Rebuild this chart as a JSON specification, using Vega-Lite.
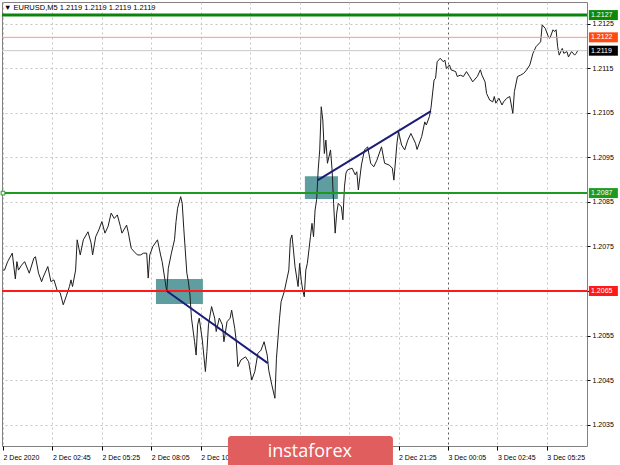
{
  "$schema": "https://vega.github.io/schema/vega-lite/v6.json",
  "width": 585,
  "height": 444,
  "autosize": {"type": "none"},
  "padding": {"left": 2, "top": 2, "right": 33, "bottom": 19},
  "background": "#ffffff",
  "config": {
    "view": {"stroke": "#808080", "strokeWidth": 1},
    "font": "Liberation Sans"
  },
  "datasets": {
    "price": [
      {"t":"2020-12-02T00:05","p":1.20697},{"t":"2020-12-02T00:10","p":1.20697},{"t":"2020-12-02T00:20","p":1.20716},{"t":"2020-12-02T00:35","p":1.20735},{"t":"2020-12-02T00:45","p":1.20677},{"t":"2020-12-02T00:50","p":1.20716},{"t":"2020-12-02T00:55","p":1.20697},{"t":"2020-12-02T01:05","p":1.20708},{"t":"2020-12-02T01:15","p":1.20716},{"t":"2020-12-02T01:30","p":1.2069},{"t":"2020-12-02T01:45","p":1.20724},{"t":"2020-12-02T01:50","p":1.20727},{"t":"2020-12-02T02:00","p":1.2069},{"t":"2020-12-02T02:10","p":1.20671},{"t":"2020-12-02T02:15","p":1.20681},{"t":"2020-12-02T02:30","p":1.20705},{"t":"2020-12-02T02:40","p":1.20671},{"t":"2020-12-02T02:50","p":1.20675},{"t":"2020-12-02T03:00","p":1.20652},{"t":"2020-12-02T03:10","p":1.20646},{"t":"2020-12-02T03:20","p":1.20619},{"t":"2020-12-02T03:30","p":1.20639},{"t":"2020-12-02T03:40","p":1.2066},{"t":"2020-12-02T03:45","p":1.20675},{"t":"2020-12-02T03:50","p":1.2066},{"t":"2020-12-02T04:00","p":1.20697},{"t":"2020-12-02T04:05","p":1.20765},{"t":"2020-12-02T04:15","p":1.20731},{"t":"2020-12-02T04:25","p":1.20765},{"t":"2020-12-02T04:40","p":1.20783},{"t":"2020-12-02T04:50","p":1.20758},{"t":"2020-12-02T04:55","p":1.20731},{"t":"2020-12-02T05:05","p":1.20772},{"t":"2020-12-02T05:15","p":1.20787},{"t":"2020-12-02T05:25","p":1.20806},{"t":"2020-12-02T05:35","p":1.2078},{"t":"2020-12-02T05:45","p":1.20795},{"t":"2020-12-02T05:55","p":1.20825},{"t":"2020-12-02T06:05","p":1.20813},{"t":"2020-12-02T06:15","p":1.20821},{"t":"2020-12-02T06:25","p":1.20795},{"t":"2020-12-02T06:30","p":1.2078},{"t":"2020-12-02T06:45","p":1.20798},{"t":"2020-12-02T06:50","p":1.20783},{"t":"2020-12-02T07:00","p":1.20746},{"t":"2020-12-02T07:10","p":1.20738},{"t":"2020-12-02T07:20","p":1.20731},{"t":"2020-12-02T07:30","p":1.20731},{"t":"2020-12-02T07:40","p":1.20735},{"t":"2020-12-02T07:50","p":1.20735},{"t":"2020-12-02T07:55","p":1.20679},{"t":"2020-12-02T08:00","p":1.20731},{"t":"2020-12-02T08:10","p":1.2075},{"t":"2020-12-02T08:25","p":1.20765},{"t":"2020-12-02T08:35","p":1.20731},{"t":"2020-12-02T08:40","p":1.20716},{"t":"2020-12-02T08:50","p":1.20671},{"t":"2020-12-02T08:55","p":1.20648},{"t":"2020-12-02T09:00","p":1.20701},{"t":"2020-12-02T09:10","p":1.20735},{"t":"2020-12-02T09:15","p":1.2075},{"t":"2020-12-02T09:20","p":1.20765},{"t":"2020-12-02T09:25","p":1.20806},{"t":"2020-12-02T09:30","p":1.20836},{"t":"2020-12-02T09:40","p":1.20862},{"t":"2020-12-02T09:45","p":1.20847},{"t":"2020-12-02T09:50","p":1.20791},{"t":"2020-12-02T10:00","p":1.2069},{"t":"2020-12-02T10:05","p":1.20671},{"t":"2020-12-02T10:10","p":1.20641},{"t":"2020-12-02T10:15","p":1.20589},{"t":"2020-12-02T10:25","p":1.20536},{"t":"2020-12-02T10:30","p":1.20506},{"t":"2020-12-02T10:35","p":1.20574},{"t":"2020-12-02T10:40","p":1.20589},{"t":"2020-12-02T10:50","p":1.2054},{"t":"2020-12-02T11:00","p":1.20469},{"t":"2020-12-02T11:05","p":1.20514},{"t":"2020-12-02T11:10","p":1.20574},{"t":"2020-12-02T11:20","p":1.20615},{"t":"2020-12-02T11:30","p":1.20589},{"t":"2020-12-02T11:35","p":1.20559},{"t":"2020-12-02T11:45","p":1.20589},{"t":"2020-12-02T11:55","p":1.20574},{"t":"2020-12-02T12:00","p":1.20536},{"t":"2020-12-02T12:10","p":1.20581},{"t":"2020-12-02T12:20","p":1.20589},{"t":"2020-12-02T12:25","p":1.20607},{"t":"2020-12-02T12:35","p":1.20566},{"t":"2020-12-02T12:40","p":1.20536},{"t":"2020-12-02T12:45","p":1.2048},{"t":"2020-12-02T12:55","p":1.20495},{"t":"2020-12-02T13:10","p":1.20502},{"t":"2020-12-02T13:20","p":1.20491},{"t":"2020-12-02T13:30","p":1.2045},{"t":"2020-12-02T13:40","p":1.20469},{"t":"2020-12-02T13:50","p":1.2051},{"t":"2020-12-02T14:00","p":1.20517},{"t":"2020-12-02T14:10","p":1.20536},{"t":"2020-12-02T14:20","p":1.20506},{"t":"2020-12-02T14:25","p":1.20472},{"t":"2020-12-02T14:35","p":1.20439},{"t":"2020-12-02T14:45","p":1.20409},{"t":"2020-12-02T14:50","p":1.20499},{"t":"2020-12-02T15:00","p":1.20589},{"t":"2020-12-02T15:05","p":1.20626},{"t":"2020-12-02T15:15","p":1.20648},{"t":"2020-12-02T15:30","p":1.20697},{"t":"2020-12-02T15:35","p":1.20765},{"t":"2020-12-02T15:40","p":1.20776},{"t":"2020-12-02T15:45","p":1.20742},{"t":"2020-12-02T15:50","p":1.20705},{"t":"2020-12-02T16:00","p":1.2066},{"t":"2020-12-02T16:05","p":1.20712},{"t":"2020-12-02T16:10","p":1.20675},{"t":"2020-12-02T16:15","p":1.20652},{"t":"2020-12-02T16:20","p":1.20637},{"t":"2020-12-02T16:25","p":1.20697},{"t":"2020-12-02T16:30","p":1.20712},{"t":"2020-12-02T16:40","p":1.20772},{"t":"2020-12-02T16:45","p":1.20802},{"t":"2020-12-02T16:50","p":1.20772},{"t":"2020-12-02T16:55","p":1.20832},{"t":"2020-12-02T17:00","p":1.20855},{"t":"2020-12-02T17:05","p":1.20922},{"t":"2020-12-02T17:10","p":1.20967},{"t":"2020-12-02T17:15","p":1.21064},{"t":"2020-12-02T17:20","p":1.21034},{"t":"2020-12-02T17:25","p":1.20959},{"t":"2020-12-02T17:30","p":1.20989},{"t":"2020-12-02T17:35","p":1.20937},{"t":"2020-12-02T17:45","p":1.20967},{"t":"2020-12-02T17:50","p":1.20922},{"t":"2020-12-02T17:55","p":1.20847},{"t":"2020-12-02T18:00","p":1.2078},{"t":"2020-12-02T18:05","p":1.20825},{"t":"2020-12-02T18:10","p":1.20847},{"t":"2020-12-02T18:20","p":1.20839},{"t":"2020-12-02T18:25","p":1.2081},{"t":"2020-12-02T18:30","p":1.20884},{"t":"2020-12-02T18:35","p":1.20915},{"t":"2020-12-02T18:40","p":1.20922},{"t":"2020-12-02T18:55","p":1.20926},{"t":"2020-12-02T19:05","p":1.20911},{"t":"2020-12-02T19:10","p":1.20918},{"t":"2020-12-02T19:15","p":1.20877},{"t":"2020-12-02T19:25","p":1.20933},{"t":"2020-12-02T19:35","p":1.20967},{"t":"2020-12-02T19:45","p":1.20974},{"t":"2020-12-02T19:55","p":1.20937},{"t":"2020-12-02T20:05","p":1.20929},{"t":"2020-12-02T20:15","p":1.20944},{"t":"2020-12-02T20:30","p":1.20974},{"t":"2020-12-02T20:40","p":1.20937},{"t":"2020-12-02T20:55","p":1.20933},{"t":"2020-12-02T21:05","p":1.20926},{"t":"2020-12-02T21:10","p":1.20899},{"t":"2020-12-02T21:20","p":1.20982},{"t":"2020-12-02T21:25","p":1.21008},{"t":"2020-12-02T21:35","p":1.20978},{"t":"2020-12-02T21:45","p":1.20967},{"t":"2020-12-02T21:55","p":1.20989},{"t":"2020-12-02T22:05","p":1.21004},{"t":"2020-12-02T22:20","p":1.20982},{"t":"2020-12-02T22:25","p":1.20968},{"t":"2020-12-02T22:40","p":1.20997},{"t":"2020-12-02T22:50","p":1.2103},{"t":"2020-12-02T22:55","p":1.21023},{"t":"2020-12-02T23:05","p":1.21042},{"t":"2020-12-02T23:10","p":1.21061},{"t":"2020-12-02T23:20","p":1.21124},{"t":"2020-12-02T23:25","p":1.21128},{"t":"2020-12-02T23:30","p":1.21165},{"t":"2020-12-02T23:40","p":1.21173},{"t":"2020-12-02T23:50","p":1.21165},{"t":"2020-12-02T23:55","p":1.21169},
      {"t":"2020-12-03T00:00","p":1.2115},{"t":"2020-12-03T00:10","p":1.21158},{"t":"2020-12-03T00:15","p":1.21147},{"t":"2020-12-03T00:30","p":1.21143},{"t":"2020-12-03T00:35","p":1.21132},{"t":"2020-12-03T00:45","p":1.21135},{"t":"2020-12-03T00:55","p":1.21132},{"t":"2020-12-03T01:05","p":1.21143},{"t":"2020-12-03T01:15","p":1.21132},{"t":"2020-12-03T01:25","p":1.2112},{"t":"2020-12-03T01:40","p":1.21132},{"t":"2020-12-03T01:50","p":1.21147},{"t":"2020-12-03T01:55","p":1.21135},{"t":"2020-12-03T02:05","p":1.2112},{"t":"2020-12-03T02:10","p":1.21094},{"t":"2020-12-03T02:20","p":1.21079},{"t":"2020-12-03T02:30","p":1.21075},{"t":"2020-12-03T02:35","p":1.21087},{"t":"2020-12-03T02:40","p":1.21072},{"t":"2020-12-03T02:50","p":1.21083},{"t":"2020-12-03T03:00","p":1.21068},{"t":"2020-12-03T03:05","p":1.21075},{"t":"2020-12-03T03:15","p":1.21083},{"t":"2020-12-03T03:25","p":1.21087},{"t":"2020-12-03T03:35","p":1.21049},{"t":"2020-12-03T03:40","p":1.21098},{"t":"2020-12-03T03:50","p":1.21132},{"t":"2020-12-03T04:00","p":1.21135},{"t":"2020-12-03T04:10","p":1.21139},{"t":"2020-12-03T04:20","p":1.21147},{"t":"2020-12-03T04:30","p":1.21158},{"t":"2020-12-03T04:40","p":1.21184},{"t":"2020-12-03T04:50","p":1.21199},{"t":"2020-12-03T05:05","p":1.2121},{"t":"2020-12-03T05:10","p":1.21248},{"t":"2020-12-03T05:20","p":1.2124},{"t":"2020-12-03T05:30","p":1.21221},{"t":"2020-12-03T05:35","p":1.21218},{"t":"2020-12-03T05:45","p":1.21237},{"t":"2020-12-03T05:50","p":1.21233},{"t":"2020-12-03T05:55","p":1.21237},{"t":"2020-12-03T06:00","p":1.21199},{"t":"2020-12-03T06:05","p":1.2118},{"t":"2020-12-03T06:15","p":1.21195},{"t":"2020-12-03T06:20","p":1.21184},{"t":"2020-12-03T06:30","p":1.21188},{"t":"2020-12-03T06:35","p":1.21176},{"t":"2020-12-03T06:45","p":1.21188},{"t":"2020-12-03T06:55","p":1.2118},{"t":"2020-12-03T07:00","p":1.21184},{"t":"2020-12-03T07:05","p":1.2119}
    ],
    "boxes": [
      {"t1":"2020-12-02T08:20","t2":"2020-12-02T10:52","p1":1.20677,"p2":1.20621},
      {"t1":"2020-12-02T16:22","t2":"2020-12-02T18:09","p1":1.20908,"p2":1.20857}
    ],
    "trends": [
      {"seg":"a","t":"2020-12-02T08:55","p":1.2065},
      {"seg":"a","t":"2020-12-02T14:22","p":1.20488},
      {"seg":"b","t":"2020-12-02T17:04","p":1.20899},
      {"seg":"b","t":"2020-12-02T23:10","p":1.21054}
    ],
    "tags": [
      {"price":1.2127,"label":"1.2127"},
      {"price":1.2122,"label":"1.2122"},
      {"price":1.2119,"label":"1.2119"},
      {"price":1.2087,"label":"1.2087"},
      {"price":1.2065,"label":"1.2065"}
    ]
  },
  "layer": [
    {
      "data": {"name": "boxes"},
      "mark": {"type": "rect", "color": "#5f9ea0", "opacity": 1},
      "encoding": {
        "x": {"field": "t1", "type": "temporal"},
        "x2": {"field": "t2"},
        "y": {"field": "p1", "type": "quantitative"},
        "y2": {"field": "p2"}
      }
    },
    {
      "data": {"name": "price"},
      "mark": {"type": "line", "color": "#1e1e1e", "strokeWidth": 1},
      "encoding": {
        "x": {
          "field": "t", "type": "temporal",
          "scale": {"domain": [{"year":2020,"month":12,"date":2,"hours":0,"minutes":1,"seconds":46},{"year":2020,"month":12,"date":3,"hours":7,"minutes":35}], "nice": false},
          "axis": {
            "title": null,
            "values": [
              {"year":2020,"month":12,"date":2,"hours":0,"minutes":5},{"year":2020,"month":12,"date":2,"hours":1,"minutes":25},{"year":2020,"month":12,"date":2,"hours":2,"minutes":45},{"year":2020,"month":12,"date":2,"hours":4,"minutes":5},{"year":2020,"month":12,"date":2,"hours":5,"minutes":25},{"year":2020,"month":12,"date":2,"hours":6,"minutes":45},{"year":2020,"month":12,"date":2,"hours":8,"minutes":5},{"year":2020,"month":12,"date":2,"hours":9,"minutes":25},{"year":2020,"month":12,"date":2,"hours":10,"minutes":45},{"year":2020,"month":12,"date":2,"hours":12,"minutes":5},{"year":2020,"month":12,"date":2,"hours":13,"minutes":25},{"year":2020,"month":12,"date":2,"hours":14,"minutes":45},{"year":2020,"month":12,"date":2,"hours":16,"minutes":5},{"year":2020,"month":12,"date":2,"hours":17,"minutes":25},{"year":2020,"month":12,"date":2,"hours":18,"minutes":45},{"year":2020,"month":12,"date":2,"hours":20,"minutes":5},{"year":2020,"month":12,"date":2,"hours":21,"minutes":25},{"year":2020,"month":12,"date":2,"hours":22,"minutes":45},{"year":2020,"month":12,"date":3,"hours":0,"minutes":5},{"year":2020,"month":12,"date":3,"hours":1,"minutes":25},{"year":2020,"month":12,"date":3,"hours":2,"minutes":45},{"year":2020,"month":12,"date":3,"hours":4,"minutes":5},{"year":2020,"month":12,"date":3,"hours":5,"minutes":25},{"year":2020,"month":12,"date":3,"hours":6,"minutes":45}
            ],
            "labelExpr": "(hours(datum.value)*60+minutes(datum.value)-5) % 160 == 0 ? ((date(datum.value)==2 && hours(datum.value)==0) ? '2 Dec 2020' : timeFormat(datum.value, '%-d %b %H:%M')) : ''",
            "grid": true,
            "gridColor": {"condition": {"test": "date(datum.value)==3 && hours(datum.value)==0 && minutes(datum.value)==5", "value": "#5a5a5a"}, "value": "#c4c4c4"},
            "gridDash": [2, 3],
            "domain": false,
            "tickSize": 4,
            "tickColor": "#000000",
            "tickOpacity": {"condition": {"test": "(hours(datum.value)*60+minutes(datum.value)-5) % 160 == 0", "value": 1}, "value": 0},
            "labelAlign": "left",
            "labelBaseline": "top",
            "labelPadding": 3,
            "labelFont": "Liberation Sans",
            "labelFontSize": 7,
            "labelColor": "#000000",
            "labelOverlap": false,
            "labelFlush": false,
            "labelBound": false
          }
        },
        "y": {
          "field": "p", "type": "quantitative",
          "scale": {"domain": [1.203017, 1.212994], "nice": false, "zero": false},
          "axis": {
            "title": null,
            "orient": "right",
            "values": [1.2035, 1.2045, 1.2055, 1.2065, 1.2075, 1.2085, 1.2095, 1.2105, 1.2115, 1.2125],
            "format": ".4f",
            "grid": true,
            "gridColor": "#c4c4c4",
            "gridDash": [2, 3],
            "domain": false,
            "tickSize": 3,
            "tickColor": "#000000",
            "labelFont": "Liberation Sans",
            "labelFontSize": 7,
            "labelColor": "#000000",
            "labelPadding": 2
          }
        }
      }
    },
    {"data": {"values": [{}]}, "mark": {"type": "rule", "color": "#0a840a", "strokeWidth": 3}, "encoding": {"y": {"datum": 1.2127, "type": "quantitative"}}},
    {"data": {"values": [{}]}, "mark": {"type": "rule", "color": "#fb9a7c", "strokeWidth": 1}, "encoding": {"y": {"datum": 1.2122, "type": "quantitative"}}},
    {"data": {"values": [{}]}, "mark": {"type": "rule", "color": "#c8c8c8", "strokeWidth": 1}, "encoding": {"y": {"datum": 1.2119, "type": "quantitative"}}},
    {"data": {"values": [{}]}, "mark": {"type": "rule", "color": "#1e9a1e", "strokeWidth": 2}, "encoding": {"y": {"datum": 1.2087, "type": "quantitative"}}},
    {"data": {"values": [{}]}, "mark": {"type": "rule", "color": "#ff1a1a", "strokeWidth": 2}, "encoding": {"y": {"datum": 1.2065, "type": "quantitative"}}},
    {
      "data": {"values": [{}]},
      "mark": {"type": "point", "shape": "square", "size": 14, "filled": true, "color": "#ffffff", "stroke": "#1e9a1e", "strokeWidth": 1, "opacity": 1},
      "encoding": {
        "x": {"datum": {"year":2020,"month":12,"date":2,"hours":0,"minutes":5}, "type": "temporal"},
        "y": {"datum": 1.2087, "type": "quantitative"}
      }
    },
    {
      "data": {"name": "trends"},
      "mark": {"type": "line", "color": "#1c1c78", "strokeWidth": 2},
      "encoding": {
        "x": {"field": "t", "type": "temporal"},
        "y": {"field": "p", "type": "quantitative"},
        "detail": {"field": "seg"}
      }
    },
    {
      "data": {"name": "tags"},
      "mark": {"type": "rect", "width": 29, "height": 10},
      "encoding": {
        "x": {"datum": {"year":2020,"month":12,"date":3,"hours":8,"minutes":28}, "type": "temporal"},
        "y": {"field": "price", "type": "quantitative"},
        "color": {"field": "label", "type": "nominal", "legend": null,
          "scale": {"domain": ["1.2127", "1.2122", "1.2119", "1.2087", "1.2065"], "range": ["#0a8a0a", "#ff4a10", "#000000", "#1e9a1e", "#ff1a1a"]}}
      }
    },
    {
      "data": {"name": "tags"},
      "mark": {"type": "text", "align": "left", "baseline": "middle", "color": "#ffffff", "font": "Liberation Sans", "fontSize": 7},
      "encoding": {
        "x": {"datum": {"year":2020,"month":12,"date":3,"hours":7,"minutes":48}, "type": "temporal"},
        "y": {"field": "price", "type": "quantitative"},
        "text": {"field": "label"}
      }
    },
    {
      "data": {"values": [{}]},
      "mark": {"type": "text", "align": "left", "baseline": "middle", "color": "#000000", "font": "Liberation Sans", "fontSize": 7.5, "dx": 1},
      "encoding": {
        "x": {"datum": {"year":2020,"month":12,"date":2,"hours":0,"minutes":5}, "type": "temporal"},
        "y": {"datum": 1.21286, "type": "quantitative"},
        "text": {"value": "▼ EURUSD,M5  1.2119 1.2119 1.2119 1.2119"}
      }
    },
    {
      "data": {"values": [{}]},
      "mark": {"type": "rect", "color": "#e15e5e", "cornerRadius": 3},
      "encoding": {
        "x": {"datum": {"year":2020,"month":12,"date":2,"hours":12,"minutes":13}, "type": "temporal"},
        "x2": {"datum": {"year":2020,"month":12,"date":2,"hours":21,"minutes":7}},
        "y": {"datum": 1.203242, "type": "quantitative"},
        "y2": {"datum": 1.202478}
      }
    },
    {
      "data": {"values": [{}]},
      "mark": {"type": "text", "align": "center", "baseline": "middle", "color": "#ffffff", "font": "Open Sans", "fontSize": 18},
      "encoding": {
        "x": {"datum": {"year":2020,"month":12,"date":2,"hours":16,"minutes":38}, "type": "temporal"},
        "y": {"datum": 1.202882, "type": "quantitative"},
        "text": {"value": "instaforex"}
      }
    }
  ]
}
